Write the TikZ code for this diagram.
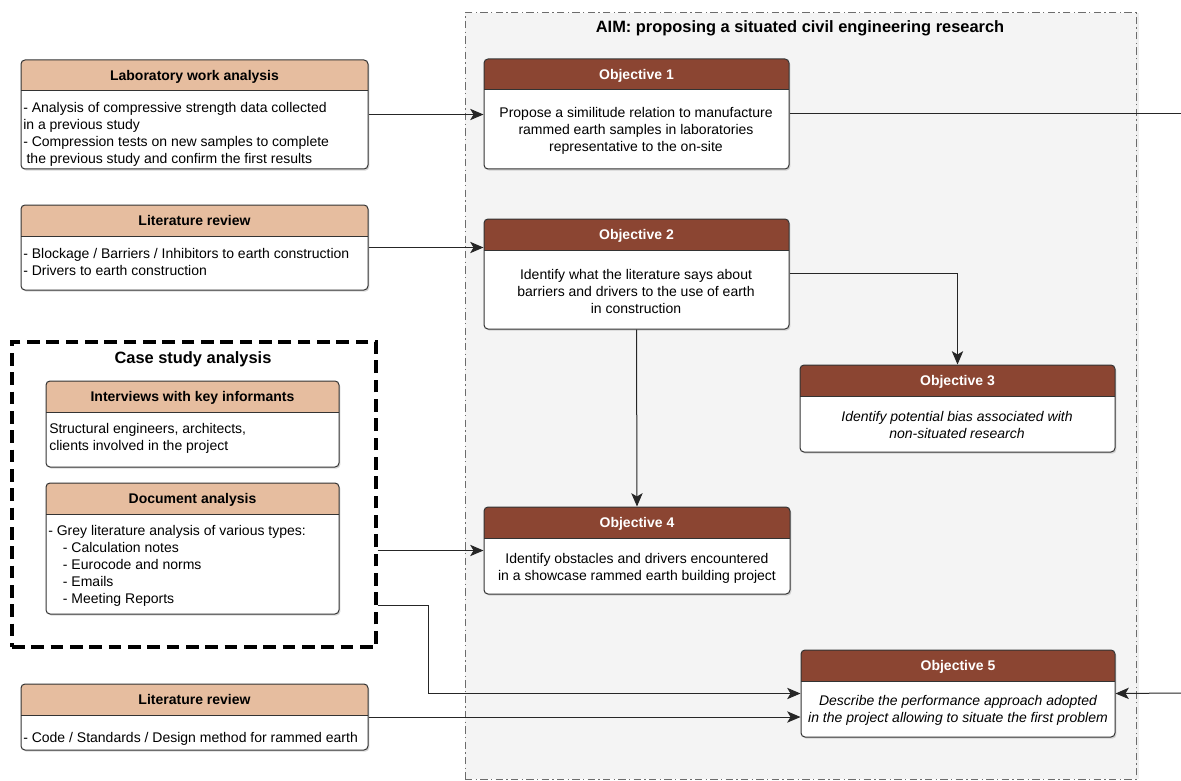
\documentclass[tikz,border=0pt]{standalone}
\usepackage{fontspec}
\setmainfont{Liberation Sans}
\usetikzlibrary{positioning,fit,shadows,arrows.meta}

\definecolor{brick}{HTML}{8B4532}
\definecolor{sand}{HTML}{E6BD9F}
\definecolor{aimgrey}{HTML}{F4F4F4}

\tikzset{
  card/.style={draw=black!80, line width=0.75pt, rounded corners=3pt, fill=white, inner sep=0pt,
    drop shadow={shadow xshift=1pt, shadow yshift=-1.2pt, opacity=0.3},
    path picture={
      \fill[#1, sharp corners] (path picture bounding box.north west) rectangle ([yshift=-23.25pt]path picture bounding box.north east);
      \draw[black!80, line width=0.75pt, sharp corners] ([yshift=-23.25pt]path picture bounding box.north west) -- ([yshift=-23.25pt]path picture bounding box.north east);}},
  head/.style={inner sep=0pt, minimum height=23.25pt, text height=7.6pt, text depth=0pt,
    font=\fontsize{10.5}{12}\selectfont\bfseries},
  objhead/.style={head, text=white},
  txt/.style={inner sep=0pt, font=\fontsize{10.5}{12.75}\selectfont, align=#1},
  txt/.default=left,
  link/.style={draw=black!85, line width=0.75pt, -{Stealth[length=10pt,width=8.5pt,inset=2.5pt]}},
  plain/.style={draw=black!85, line width=0.75pt},
  bigtitle/.style={inner sep=0pt, font=\fontsize{12.3}{14}\selectfont\bfseries},
}

\begin{document}
\begin{tikzpicture}[x=0.75pt, y=-0.75pt]
\useasboundingbox (0,0) rectangle (1181,781);
\fill[white] (0,0) rectangle (1181,781);

% aim frame
\node[fit={(465,13) (1136,779)}, inner sep=0pt, fill=aimgrey, draw=gray!85!black, line width=0.75pt,
      dash pattern=on 5.5pt off 2.5pt on 1pt off 2.5pt,
      drop shadow={shadow xshift=2.5pt, shadow yshift=0pt, opacity=0.12}] (aim) {};
\node[bigtitle] (aimT) at (800,28) {AIM: proposing a situated civil engineering research};

% case study frame
\node[fit={(12,342) (376,647)}, inner sep=0pt, draw=black, line width=2.6pt,
      dash pattern=on 9.5pt off 5pt] (case) {};
\node[bigtitle] (caseT) at (193,359) {Case study analysis};

% left boxes
\node[card=sand, fit={(21,60) (368,169)}] (lab) {};
\node[head, below=0pt of lab.north] (labH) {Laboratory work analysis};
\node[txt, anchor=west] (labB) at (23,134) {- Analysis of compressive strength data collected\\in a previous study\\- Compression tests on new samples to complete\\\hspace*{2.5pt}the previous study and confirm the first results};

\node[card=sand, fit={(21,205) (368,290)}] (lit1) {};
\node[head, below=0pt of lit1.north] (lit1H) {Literature review};
\node[txt, anchor=west] (lit1B) at (23,262) {- Blockage / Barriers / Inhibitors to earth construction\\- Drivers to earth construction};

\node[card=sand, fit={(46,381) (339,467)}] (intv) {};
\node[head, below=0pt of intv.north] (intvH) {Interviews with key informants};
\node[txt, anchor=west] (intvB) at (49,438) {Structural engineers, architects,\\clients involved in the project};

\node[card=sand, fit={(46,483) (339,614)}] (docs) {};
\node[head, below=0pt of docs.north] (docsH) {Document analysis};
\node[txt, anchor=west] (docsB) at (48,566) {- Grey literature analysis of various types:\\\hspace*{11pt}- Calculation notes\\\hspace*{11pt}- Eurocode and norms\\\hspace*{11pt}- Emails\\\hspace*{11pt}- Meeting Reports};

\node[card=sand, fit={(21,684) (368,750)}] (lit2) {};
\node[head, below=0pt of lit2.north] (lit2H) {Literature review};
\node[txt, anchor=west] (lit2B) at (23,739) {- Code / Standards / Design method for rammed earth};

% objectives
\node[card=brick, fit={(484,59) (789,169)}] (obj1) {};
\node[objhead, below=0pt of obj1.north] (obj1H) {Objective 1};
\node[txt=center] (obj1B) at (636,131) {Propose a similitude relation to manufacture\\rammed earth samples in laboratories\\representative to the on-site};

\node[card=brick, fit={(484,219) (789,329)}] (obj2) {};
\node[objhead, below=0pt of obj2.north] (obj2H) {Objective 2};
\node[txt=center] (obj2B) at (636,291) {Identify what the literature says about\\barriers and drivers to the use of earth\\in construction};

\node[card=brick, fit={(800,365) (1115,452)}] (obj3) {};
\node[objhead, below=0pt of obj3.north] (obj3H) {Objective 3};
\node[txt=center, font=\fontsize{10.5}{12.75}\selectfont\itshape] (obj3B) at (957,425) {Identify potential bias associated with\\non-situated research};

\node[card=brick, fit={(484,507) (790,594)}] (obj4) {};
\node[objhead, below=0pt of obj4.north] (obj4H) {Objective 4};
\node[txt=center] (obj4B) at (637,568) {Identify obstacles and drivers encountered\\in a showcase rammed earth building project};

\node[card=brick, fit={(801,650) (1115,737)}] (obj5) {};
\node[objhead, below=0pt of obj5.north] (obj5H) {Objective 5};
\node[txt=center, font=\fontsize{10.5}{12.75}\selectfont\itshape] (obj5B) at (958,710) {Describe the performance approach adopted\\in the project allowing to situate the first problem};

% connectors
\coordinate (rOut) at (1181,114);
\coordinate (rIn) at (1181,693);
\draw[link] (lab.east) -- (lab.east -| obj1.west);
\draw[plain] (obj1.east) -- (rOut);
\draw[link] (lit1.east) -- (lit1.east -| obj2.west);
\draw[link] ([yshift=0.5pt]obj2.east) -| (obj3.north);
\draw[link] (obj2.south) -- (obj4.north);
\draw[link] (case.east |- obj4.west) -- (obj4.west);
\draw[link] (case.east |- 0,605) -- ++(51,0) |- (obj5.west);
\draw[link] (lit2.east) -- (lit2.east -| obj5.west);
\draw[link] (rIn) -- (obj5.east);
\end{tikzpicture}
\end{document}
